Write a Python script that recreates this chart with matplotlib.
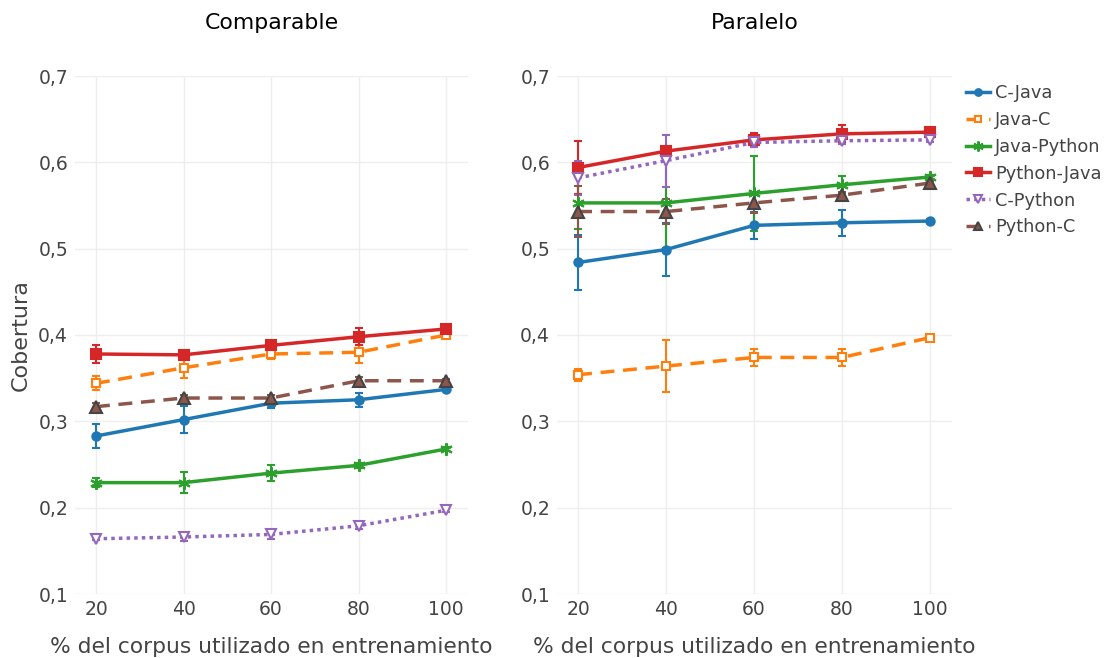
import matplotlib
matplotlib.use("Agg")
import matplotlib.pyplot as plt
from matplotlib.ticker import FuncFormatter
from matplotlib.lines import Line2D

x = [20, 40, 60, 80, 100]
series = ["C-Java", "Java-C", "Java-Python", "Python-Java", "C-Python", "Python-C"]

comp_vals = {
    "C-Java":      [0.283, 0.302, 0.321, 0.325, 0.337],
    "Java-C":      [0.344, 0.362, 0.378, 0.380, 0.400],
    "Java-Python": [0.229, 0.229, 0.240, 0.249, 0.268],
    "Python-Java": [0.378, 0.377, 0.388, 0.398, 0.407],
    "C-Python":    [0.164, 0.166, 0.169, 0.179, 0.197],
    "Python-C":    [0.317, 0.327, 0.327, 0.347, 0.347],
}
comp_err = {
    "C-Java":      [0.014, 0.016, 0.005, 0.008, 0.002],
    "Java-C":      [0.008, 0.012, 0.006, 0.012, 0.002],
    "Java-Python": [0.005, 0.012, 0.009, 0.003, 0.002],
    "Python-Java": [0.010, 0.004, 0.004, 0.010, 0.002],
    "C-Python":    [0.002, 0.005, 0.005, 0.004, 0.002],
    "Python-C":    [0.004, 0.004, 0.004, 0.004, 0.002],
}
par_vals = {
    "C-Java":      [0.484, 0.499, 0.527, 0.530, 0.532],
    "Java-C":      [0.354, 0.364, 0.374, 0.374, 0.397],
    "Java-Python": [0.553, 0.553, 0.564, 0.574, 0.583],
    "Python-Java": [0.594, 0.613, 0.626, 0.633, 0.635],
    "C-Python":    [0.582, 0.602, 0.623, 0.625, 0.626],
    "Python-C":    [0.543, 0.543, 0.553, 0.562, 0.576],
}
par_err = {
    "C-Java":      [0.032, 0.031, 0.016, 0.015, 0.002],
    "Java-C":      [0.007, 0.030, 0.010, 0.010, 0.002],
    "Java-Python": [0.030, 0.052, 0.043, 0.010, 0.002],
    "Python-Java": [0.031, 0.004, 0.008, 0.010, 0.002],
    "C-Python":    [0.020, 0.030, 0.005, 0.004, 0.002],
    "Python-C":    [0.030, 0.015, 0.012, 0.004, 0.002],
}
titles = ["Comparable", "Paralelo"]
xlabel = "% del corpus utilizado en entrenamiento"
ylabel = "Cobertura"

styles = {
    "C-Java":      dict(color="#1f77b4", ls="-", marker="o", mfc="#1f77b4", mec="#1f77b4", ms=6),
    "Java-C":      dict(color="#ff7f0e", ls=(0, (4, 2.5)), marker="s", mfc="white", mec="#ff7f0e", ms=6),
    "Java-Python": dict(color="#2ca02c", ls="-", marker=(6, 2, 0), mfc="#2ca02c", mec="#2ca02c", ms=9),
    "Python-Java": dict(color="#d62728", ls="-", marker="s", mfc="#d62728", mec="#d62728", ms=7),
    "C-Python":    dict(color="#9467bd", ls=(0, (1, 1.2)), marker="v", mfc="white", mec="#9467bd", ms=7),
    "Python-C":    dict(color="#8c564b", ls=(0, (4, 2.5)), marker="^", mfc="#8c564b", mec="#444444", ms=8),
}

fig = plt.figure(figsize=(11.07, 6.58), dpi=100)
W, H = 1107, 658
axes = [fig.add_axes([75 / W, 1 - 594 / H, 393 / W, 518 / H]),
        fig.add_axes([557 / W, 1 - 594 / H, 395 / W, 518 / H])]
txtc = "#444444"
fmt = FuncFormatter(lambda v, p: f"{v:.1f}".replace(".", ","))

for ax, vals, errs, title in zip(axes, [comp_vals, par_vals], [comp_err, par_err], titles):
    for name in series:
        st = styles[name]
        ax.errorbar(x, vals[name], yerr=errs[name], color=st["color"], ls=st["ls"], lw=2.5,
                    marker=st["marker"], mfc=st["mfc"], mec=st["mec"], ms=st["ms"], mew=1.5,
                    elinewidth=1.5, capsize=3, capthick=1.5)
    ax.set_xlim(15.2, 105)
    ax.set_ylim(0.1, 0.7)
    ax.set_xticks(x)
    ax.set_yticks([0.1, 0.2, 0.3, 0.4, 0.5, 0.6, 0.7])
    ax.yaxis.set_major_formatter(fmt)
    ax.grid(True, color="#eeeeee", lw=1)
    ax.set_axisbelow(True)
    for s in ax.spines.values():
        s.set_visible(False)
    ax.tick_params(axis="x", length=0, labelsize=13.5, colors=txtc, pad=4)
    ax.tick_params(axis="y", length=0, labelsize=13.5, colors=txtc, pad=5)
    ax.set_xlabel(xlabel, fontsize=15.7, color=txtc, labelpad=13)
    ax.set_title(title, fontsize=15.8, color="black", pad=34)

axes[0].set_ylabel(ylabel, fontsize=16, color=txtc, labelpad=5)

handles = []
for name in series:
    st = styles[name]
    handles.append(Line2D([], [], color=st["color"], ls=st["ls"], lw=2.5, marker=st["marker"],
                          mfc=st["mfc"], mec=st["mec"], ms=st["ms"] * 0.8, mew=1.5))
fig.legend(handles, series, loc="upper left", bbox_to_anchor=(966 / W, 1 - 84 / H),
           frameon=False, fontsize=12.8, labelcolor=txtc, handlelength=1.35,
           handletextpad=0.3, labelspacing=0.5, borderaxespad=0, borderpad=0)

fig.savefig("out.png", dpi=100)
